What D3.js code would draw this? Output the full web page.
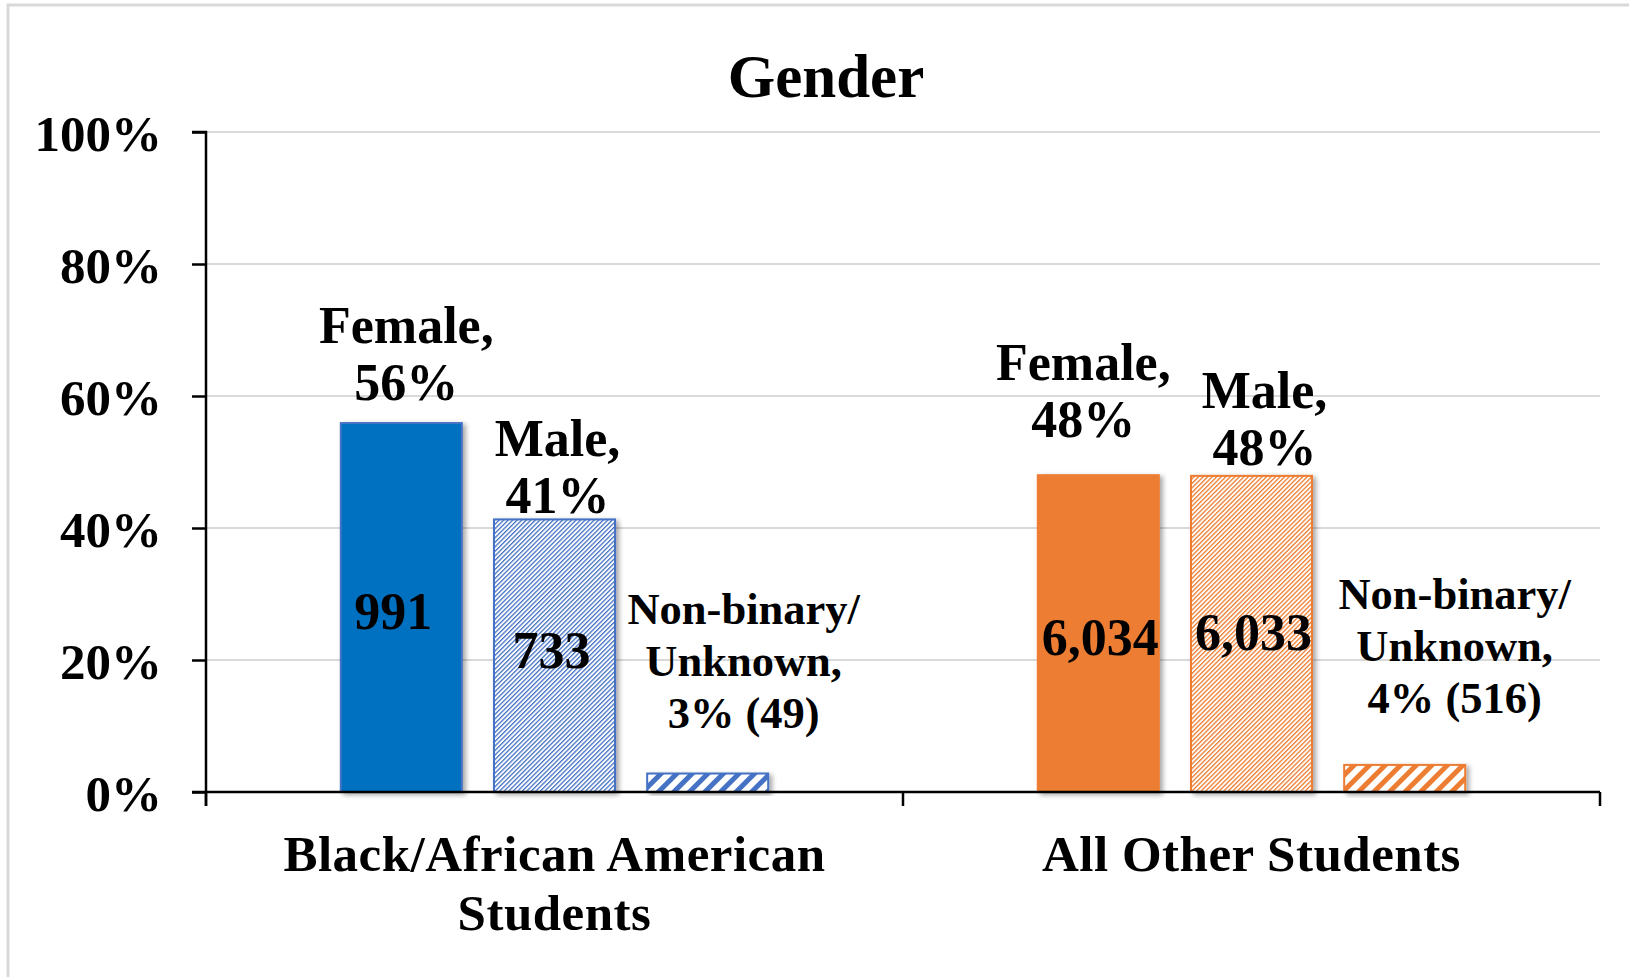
<!DOCTYPE html>
<html>
<head>
<meta charset="utf-8">
<script src="https://cdn.jsdelivr.net/npm/d3@7"></script>
<style>
  html, body { margin: 0; padding: 0; background: #fff; overflow: hidden; }
  text { font-family: "Liberation Serif", "Times New Roman", serif; font-weight: bold; fill: #000; }
</style>
</head>
<body>
<svg id="chart" width="1629" height="977"></svg>
<script>
// ---- data ----
const categories = ["Black/African American Students", "All Other Students"];
const categoryLines = [["Black/African American", "Students"], ["All Other Students"]];
const genders = ["Female", "Male", "Non-binary/Unknown"];
const blackPct = [55.9, 41.3, 2.8];
const blackCounts = [991, 733, 49];
const otherPct = [48.0, 47.9, 4.1];
const otherCounts = [6034, 6033, 516];
const yTicks = [0, 20, 40, 60, 80, 100];
const title = "Gender";

// ---- layout / style ----
const W = 1629, H = 977;
const plot = { left: 206, right: 1600, top: 132, bottom: 792 };
const fmtCount = d3.format(",");
const colors = { blue: "#0070C0", blueLine: "#4472C4", orange: "#ED7D31" };

const svg = d3.select("#chart");

// outer frame
svg.append("rect").attr("x", 8).attr("y", 5).attr("width", W + 20).attr("height", H + 20)
  .attr("fill", "none").attr("stroke", "#d9d9d9").attr("stroke-width", 3);

const defs = svg.append("defs");
const shadow = defs.append("filter").attr("id", "shadow").attr("x", "-10%").attr("y", "-10%").attr("width", "130%").attr("height", "130%");
shadow.append("feDropShadow").attr("dx", 3).attr("dy", 2).attr("stdDeviation", 2.5)
  .attr("flood-color", "#000").attr("flood-opacity", 0.35);

function hatch(id, color, size, stroke) {
  const p = defs.append("pattern").attr("id", id).attr("patternUnits", "userSpaceOnUse")
    .attr("width", size).attr("height", size).attr("patternTransform", "rotate(45)");
  p.append("rect").attr("width", size).attr("height", size).attr("fill", "#fff");
  p.append("rect").attr("x", 0).attr("y", 0).attr("width", stroke).attr("height", size).attr("fill", color);
}
hatch("fineBlue", colors.blueLine, 3.2, 1.3);
hatch("fineOrange", colors.orange, 3.2, 1.3);
hatch("wideBlue", colors.blueLine, 11, 5);
hatch("wideOrange", colors.orange, 11, 5);

const fills = [
  [colors.blue, "url(#fineBlue)", "url(#wideBlue)"],
  [colors.orange, "url(#fineOrange)", "url(#wideOrange)"]
];
const strokes = [colors.blueLine, colors.orange];

// ---- scales ----
const x0 = d3.scaleBand().domain(categories).range([plot.left, plot.right]).paddingInner(0).paddingOuter(0);
const x1 = d3.scaleBand().domain(genders).range([0, x0.bandwidth()]).paddingInner(0.21).paddingOuter(0.88);
const y = d3.scaleLinear().domain([0, 100]).range([plot.bottom, plot.top]);

// gridlines
svg.append("g").selectAll("line").data(yTicks.filter(d => d > 0)).join("line")
  .attr("x1", plot.left).attr("x2", plot.right)
  .attr("y1", d => y(d)).attr("y2", d => y(d))
  .attr("stroke", "#d9d9d9").attr("stroke-width", 2);

// title
svg.append("text").attr("x", 826).attr("y", 97).attr("text-anchor", "middle")
  .style("font-size", "61px").text(title);

// bars
const series = [
  { cat: categories[0], pct: blackPct, counts: blackCounts },
  { cat: categories[1], pct: otherPct, counts: otherCounts }
];
const barData = [];
series.forEach((s, si) => genders.forEach((g, gi) => barData.push({
  si, gi, cat: s.cat, gender: g, pct: s.pct[gi], count: s.counts[gi]
})));

svg.append("g").selectAll("rect").data(barData).join("rect")
  .attr("x", d => x0(d.cat) + x1(d.gender))
  .attr("y", d => y(d.pct))
  .attr("width", x1.bandwidth())
  .attr("height", d => y(0) - y(d.pct))
  .attr("fill", d => fills[d.si][d.gi])
  .attr("stroke", d => strokes[d.si])
  .attr("stroke-width", 2)
  .attr("filter", "url(#shadow)");

// axes
const yAxis = d3.axisLeft(y).tickValues(yTicks).tickSize(14).tickPadding(30).tickFormat(d => d + "%");
const gy = svg.append("g").attr("transform", `translate(${plot.left},0)`).call(yAxis);
gy.select(".domain").attr("stroke", "#000").attr("stroke-width", 2.5).attr("d", `M-14,${plot.top}H0V${plot.bottom + 14}`);
gy.selectAll(".tick line").attr("stroke", "#000").attr("stroke-width", 2.5);
gy.selectAll(".tick text").style("font-size", "51px").style("font-family", "'Liberation Serif', serif")
  .style("font-weight", "bold").attr("dy", "0.36em");

// x axis line + boundary ticks
const boundaries = categories.map(c => x0(c)).concat([x0.range()[1]]);
svg.append("line").attr("x1", plot.left - 14).attr("x2", plot.right).attr("y1", y(0)).attr("y2", y(0))
  .attr("stroke", "#000").attr("stroke-width", 2.5);
svg.append("g").selectAll("line").data(boundaries).join("line")
  .attr("x1", d => d).attr("x2", d => d).attr("y1", y(0)).attr("y2", y(0) + 14)
  .attr("stroke", "#000").attr("stroke-width", 2.5);

// category labels
const xl = svg.append("g").selectAll("text").data(categories).join("text")
  .attr("x", d => x0(d) + x0.bandwidth() / 2).attr("y", 871)
  .attr("text-anchor", "middle").style("font-size", "51px").style("letter-spacing", "0.5px");
xl.each(function(d, i) {
  const t = d3.select(this);
  categoryLines[i].forEach((ln, li) => t.append("tspan")
    .attr("x", x0(d) + x0.bandwidth() / 2).attr("dy", li === 0 ? 0 : 59).text(ln));
});

// outside labels (manual nudges like the original)
const nudges = [
  [{ dx: 5, dy: -23 }, { dx: 3, dy: -6 }, { dx: 36, dy: -46 }],
  [{ dx: -15, dy: -38 }, { dx: 13, dy: -11 }, { dx: 50, dy: -52 }]
];
const inNudges = [[{ dx: -8, dy: 21 }, { dx: -3, dy: 12 }], [{ dx: 2, dy: 21 }, { dx: 2, dy: 16 }]];

barData.forEach(d => {
  const cx = x0(d.cat) + x1(d.gender) + x1.bandwidth() / 2;
  const top = y(d.pct);
  const n = nudges[d.si][d.gi];
  const pctTxt = Math.round(d.pct) + "%";
  let lines, size, lh;
  if (d.gi < 2) {
    lines = [d.gender + ",", pctTxt];
    size = 52; lh = 57;
  } else {
    lines = ["Non-binary/", "Unknown,", pctTxt + " (" + fmtCount(d.count) + ")"];
    size = 44.5; lh = 52;
  }
  const lastBase = top + n.dy;
  const t = svg.append("text").attr("text-anchor", "middle").style("font-size", size + "px");
  lines.forEach((ln, li) => t.append("tspan").attr("x", cx + n.dx)
    .attr("y", lastBase - (lines.length - 1 - li) * lh).text(ln));
  if (d.gi < 2) {
    const m = inNudges[d.si][d.gi];
    svg.append("text").attr("text-anchor", "middle").style("font-size", "52px")
      .attr("x", cx + m.dx).attr("y", (top + y(0)) / 2 + m.dy).text(fmtCount(d.count));
  }
});
</script>
</body>
</html>
